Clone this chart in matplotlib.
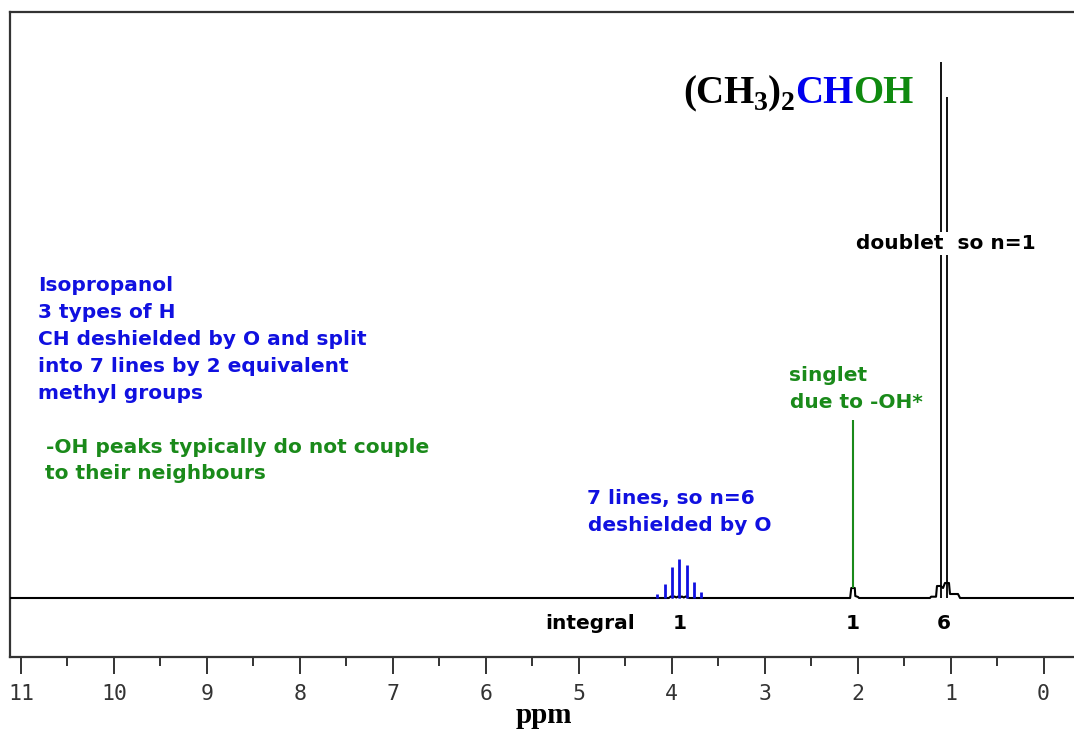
import matplotlib
matplotlib.use("Agg")
import matplotlib.pyplot as plt
from matplotlib.ticker import MultipleLocator

W, H = 1074, 732
BLUE = "#1010e0"
GREEN = "#1a8a1a"
FRAME = "#333333"

# --- spectrum data (ppm, relative intensity) ---
septet_ppm = [4.155, 4.076, 3.997, 3.918, 3.839, 3.760, 3.682]
septet_int = [4, 14, 31, 39, 33, 16, 6]
singlet_ppm = [2.049]
singlet_int = [178]
singlet_foot = [10]
doublet_ppm = [1.106, 1.041]
doublet_int = [536, 501]

# baseline trace with the small resolved humps under each signal
trace_ppm = [11.3, 4.03, 4.01, 3.99, 3.97, 3.95, 3.93, 3.91, 3.89, 3.87, 3.85, 3.83, 3.81,
             2.080, 2.068, 2.030, 2.025, 1.995, 1.985,
             1.221, 1.210, 1.156, 1.146, 1.106, 1.081, 1.060, 1.017, 1.006, 0.920, 0.898, -0.5]
trace_int = [0, 0, 1.5, 0.5, 1.5, 0.5, 1.5, 0.5, 1.5, 0.5, 1.5, 0.5, 0,
             0, 10, 10, 2, 1, 0,
             0, 1.3, 1.3, 12, 12, 10, 15, 15, 4, 4, 0, 0]

integral_labels = ["1", "1", "6"]
tick_values = list(range(0, 12))

fig = plt.figure(figsize=(W / 100, H / 100), dpi=100)
ax = fig.add_axes([10 / W, 75 / H, 1 - 10 / W, (657 - 12) / H])

ax.plot(trace_ppm, trace_int, color="black", lw=1.5, zorder=3)
ax.vlines(septet_ppm, 0, septet_int, colors=BLUE, lw=2, zorder=4)
ax.vlines(singlet_ppm, singlet_foot, singlet_int, colors=GREEN, lw=1.5, zorder=4)
ax.vlines(doublet_ppm, 0, doublet_int, colors="black", lw=1.3, zorder=4)

ax.set_xlim(11.118, -0.328)
ax.set_ylim(-59, 586)
ax.set_yticks([])
ax.set_xticks(tick_values)
ax.set_xticklabels([str(v) for v in tick_values], family="DejaVu Sans Mono")
ax.xaxis.set_minor_locator(MultipleLocator(0.5))
ax.tick_params(axis="x", which="major", length=12.2, width=1.4, direction="out",
               pad=7, labelsize=15.5, colors=FRAME)
ax.tick_params(axis="x", which="minor", length=6.5, width=1.4, direction="out",
               colors=FRAME)
for side in ("left", "top", "bottom"):
    ax.spines[side].set_linewidth(1.6)
    ax.spines[side].set_color(FRAME)
ax.spines["right"].set_visible(False)

# integral values under each signal
centres = [sum(septet_ppm) / len(septet_ppm), singlet_ppm[0], sum(doublet_ppm) / len(doublet_ppm)]
lbl_y = ax.transData.inverted().transform(ax.transAxes.transform((0, 28 / 645)))[1]
for c, lab in zip(centres, integral_labels):
    ax.text(c, lbl_y, lab, ha="center", va="baseline", fontsize=14.5,
            weight="bold", family="DejaVu Sans", color="black")


def px(x, y):
    return x / W, 1 - y / H


def label(x, y, s, color, **kw):
    fig.text(*px(x, y), s, color=color, fontsize=14.5, weight="bold",
             family="DejaVu Sans", ha="left", va="baseline", **kw)


label(545, 629, "integral", "black")

left_lines = ["Isopropanol", "3 types of H", "CH deshielded by O and split",
              "into 7 lines by 2 equivalent", "methyl groups"]
for i, s in enumerate(left_lines):
    label(38, 291 + 27 * i, s, BLUE)
label(46, 453, "-OH peaks typically do not couple", GREEN)
label(45, 479, "to their neighbours", GREEN)

label(587, 504, "7 lines, so n=6", BLUE)
label(588, 531, "deshielded by O", BLUE)
label(789, 381, "singlet", GREEN)
label(790, 408, "due to -OH*", GREEN)
fig.text(*px(856, 249), "doublet  so n=1", color="black", fontsize=14.5, weight="bold",
         family="DejaVu Sans", ha="left", va="baseline", zorder=10,
         bbox=dict(facecolor="white", edgecolor="none", pad=1.5))

# formula with sub-scripts and coloured groups
renderer = fig.canvas.get_renderer()
pieces = [("(CH", "black", 28, 0), ("3", "black", 20, 7), (")", "black", 28, 0),
          ("2", "black", 20, 7), ("CH", "#0000ee", 28, 0), ("OH", "#0f8a0f", 28, 0)]
x = 683
for s, col, size, dy in pieces:
    t = fig.text(*px(x, 103 + dy), s, color=col, fontsize=size, weight="bold",
                 family="Liberation Serif", ha="left", va="baseline")
    x += t.get_window_extent(renderer=renderer).width

fig.text(*px(544, 723), "ppm", color="black", fontsize=21, weight="bold",
         family="Liberation Serif", ha="center", va="baseline")

fig.savefig("out.png", dpi=100, facecolor="white")
